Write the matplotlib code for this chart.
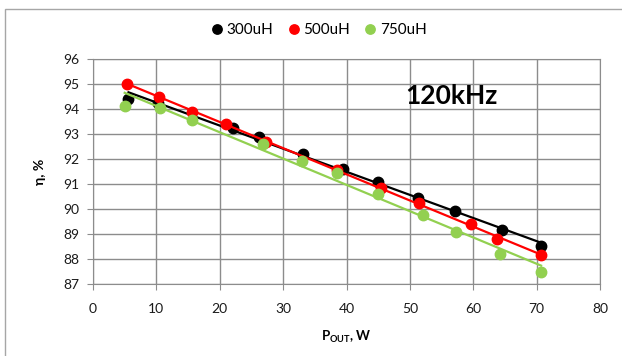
import numpy as np
import matplotlib
matplotlib.use("Agg")
import matplotlib.pyplot as plt
from matplotlib.patches import Rectangle

plt.rcParams['font.family'] = ['Lato', 'DejaVu Sans']
plt.rcParams['mathtext.fontset'] = 'custom'
plt.rcParams['mathtext.rm'] = 'Lato'
plt.rcParams['mathtext.bf'] = 'Lato:bold'

# Efficiency vs output power at 120 kHz for three inductor values
p_300 = [5.6, 10.2, 22.1, 26.2, 33.1, 39.4, 45.0, 51.3, 57.1, 64.5, 70.7]
eff_300 = [94.4, 94.25, 93.25, 92.88, 92.22, 91.62, 91.07, 90.43, 89.92, 89.18, 88.52]

p_500 = [5.3, 10.4, 15.7, 21.0, 27.3, 38.5, 45.4, 51.4, 59.6, 63.7, 70.7]
eff_500 = [95.02, 94.47, 93.87, 93.42, 92.7, 91.58, 90.84, 90.24, 89.4, 88.8, 88.16]

p_750 = [5.0, 10.6, 15.6, 26.8, 33.0, 38.5, 45.0, 52.1, 57.3, 64.2, 70.7]
eff_750 = [94.12, 94.04, 93.57, 92.62, 91.92, 91.44, 90.62, 89.76, 89.08, 88.2, 87.48]

series = [
    ("300uH", p_300, eff_300, "black"),
    ("500uH", p_500, eff_500, "#FF0000"),
    ("750uH", p_750, eff_750, "#92D050"),
]

fig = plt.figure(figsize=(6.22, 3.56), dpi=100)
fig.patches.append(Rectangle((5 / 622, -0.1), 1.2, 1 - 9 / 356 + 0.1,
                             transform=fig.transFigure, fill=False,
                             edgecolor="#A6A6A6", linewidth=1.0))

ax = fig.add_axes([93 / 622, 1 - 284 / 356, 507 / 622, 225 / 356])

handles = []
for label, x, y, color in series:
    x = np.asarray(x)
    y = np.asarray(y)
    h, = ax.plot(x, y, "o", color=color, markersize=7.5, label=label,
                 zorder=3, linestyle="none")
    handles.append(h)
    k, b = np.polyfit(x, y, 1)
    xs = np.array([x.min(), x.max()])
    ax.plot(xs, k * xs + b, color=color, linewidth=1.6, zorder=3)

ax.set_xlim(0, 80)
ax.set_ylim(87, 96)
ax.set_xticks(np.arange(0, 81, 10))
ax.set_yticks(np.arange(87, 97, 1))
ax.grid(True, color="#8C8C8C", linewidth=1.0)
ax.set_axisbelow(True)
for s in ax.spines.values():
    s.set_color("#8C8C8C")
ax.tick_params(direction="out", length=4, color="#8C8C8C",
               labelsize=10, pad=6, labelcolor="#1a1a1a")
ax.tick_params(axis="x", pad=10)

ax.set_xlabel(r"$\mathbf{P_{OUT}}$, W", fontsize=9.5, fontweight="bold",
              labelpad=10)
ax.set_ylabel("η, %", fontsize=10, fontweight="bold", labelpad=12)

ax.text(312 / 507, 0.835, "120kHz", transform=ax.transAxes, fontsize=19,
        fontweight="bold", va="center", ha="left")

fig.legend(handles=handles, loc="center", bbox_to_anchor=(320 / 622, 1 - 30 / 356),
           ncol=3, frameon=False, fontsize=11, handlelength=0.5,
           handletextpad=0.35, columnspacing=1.1, markerscale=0.9)

fig.savefig("out.png", dpi=100)
